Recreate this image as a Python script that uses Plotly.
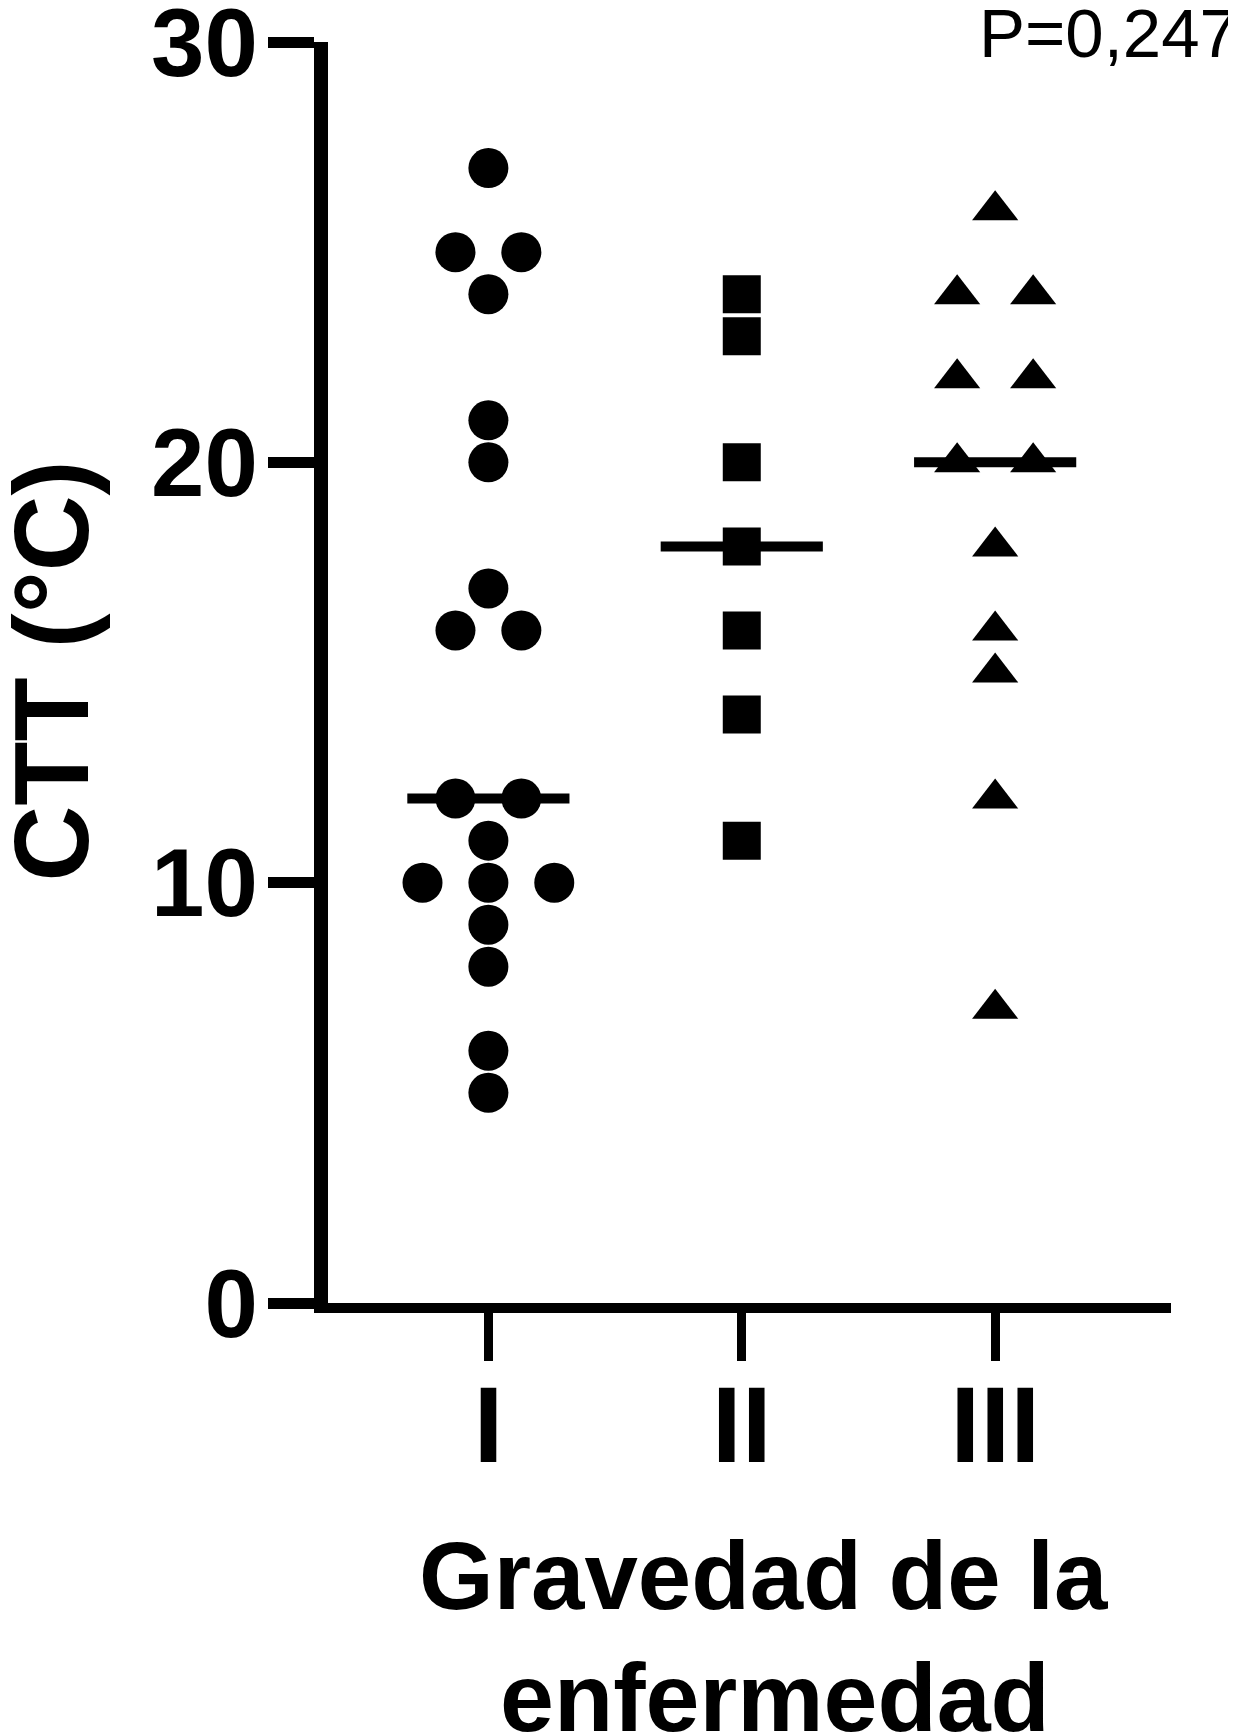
import numpy as np
import plotly.graph_objects as go
from collections import Counter

# CTT values (ºC) per disease severity group
groups = ['I', 'II', 'III']
grade_I = [27, 25, 25, 24, 21, 20, 17, 16, 16, 12, 12, 11, 10, 10, 10, 9, 8, 6, 5]
grade_II = [24, 23, 20, 18, 16, 14, 11]
grade_III = [26, 24, 24, 22, 22, 20, 20, 18, 16, 15, 12, 7]
symbols = ['circle', 'square', 'triangle-up']
p_text = 'P=0,247'


def swarm(values, center, step):
    # spread tied values side by side around the group centre
    counts = Counter(values)
    seen = Counter()
    xs = []
    for v in values:
        n = counts[v]
        xs.append(center + (seen[v] - (n - 1) / 2) * step)
        seen[v] += 1
    return xs


fig = go.Figure()
data = [grade_I, grade_II, grade_III]
steps = [0.26, 0.26, 0.30]
sizes = [40, 38, 40]
for i, vals in enumerate(data):
    pos = i + 1
    fig.add_trace(go.Scatter(
        x=swarm(vals, pos, steps[i]), y=vals, mode='markers',
        marker=dict(symbol=symbols[i], size=sizes[i], color='black', line=dict(width=0)),
        showlegend=False, cliponaxis=False))
    med = float(np.median(vals))
    fig.add_trace(go.Scatter(
        x=[pos - 0.32, pos + 0.32], y=[med, med], mode='lines',
        line=dict(color='black', width=10), showlegend=False))

bold = 'Liberation Sans, Arial, sans-serif'
fig.update_layout(
    width=1236, height=1732,
    margin=dict(l=319.5, r=73, t=33.5, b=437),
    plot_bgcolor='white', paper_bgcolor='white',
    font=dict(family=bold, color='black'),
)
fig.update_xaxes(
    range=[0.367, 3.694], tickvals=[1, 2, 3], ticktext=groups,
    showline=True, linecolor='black', linewidth=10,
    ticks='outside', ticklen=48, tickwidth=9, tickcolor='black',
    tickfont=dict(size=108, family=bold, weight='bold'),
    ticklabelstandoff=-29, automargin=False,
    showgrid=False, zeroline=False,
)
fig.update_yaxes(
    range=[0, 30], tickvals=[0, 10, 20, 30],
    showline=True, linecolor='black', linewidth=14,
    ticks='outside', ticklen=46, tickwidth=11, tickcolor='black',
    tickfont=dict(size=96, family=bold, weight='bold'),
    ticklabeloverflow='allow', ticklabelstandoff=-9, automargin=False,
    showgrid=False, zeroline=False,
)

# y axis title, placed by hand so it can sit close to the left edge
fig.add_annotation(text='<b>CTT (°C)</b>', xref='paper', yref='paper',
                   x=-0.40, y=0.501, xanchor='left', yanchor='middle',
                   textangle=-90, showarrow=False, font=dict(size=105))
fig.add_annotation(text='<b>Gravedad de la</b>', xref='paper', yref='paper',
                   x=0.5169, y=-0.2162, xanchor='center', yanchor='middle',
                   showarrow=False, font=dict(size=96))
fig.add_annotation(text='<b>enfermedad</b>', xref='paper', yref='paper',
                   x=0.530, y=-0.3125, xanchor='center', yanchor='middle',
                   showarrow=False, font=dict(size=97))
fig.add_annotation(text=p_text, xref='paper', yref='paper',
                   x=1.0818, y=1.0392, xanchor='right', yanchor='top',
                   showarrow=False, font=dict(size=69))

fig.write_html('out.html')
